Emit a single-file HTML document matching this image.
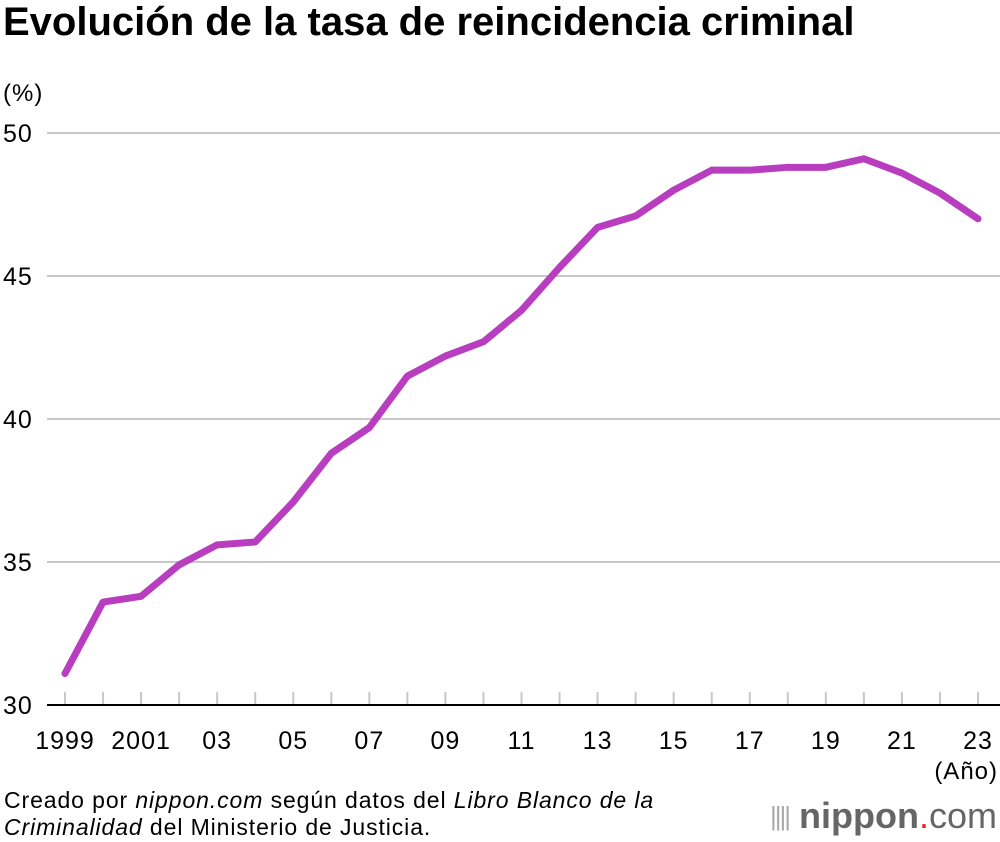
<!DOCTYPE html>
<html><head><meta charset="utf-8"><style>
html,body{margin:0;padding:0;background:#fff;}
body{width:1000px;height:842px;position:relative;overflow:hidden;font-family:"Liberation Sans",Arial,sans-serif;color:#000;}
#title{position:absolute;left:3px;top:0px;font-size:40px;font-weight:bold;letter-spacing:0px;white-space:nowrap;margin:0;}
#src{position:absolute;left:4px;top:787px;font-size:23px;letter-spacing:0.9px;line-height:27px;}
#logo{position:absolute;left:770px;top:795px;font-size:36px;color:#666;white-space:nowrap;}
svg{position:absolute;left:0;top:0;}
svg text{font-family:"Liberation Sans",Arial,sans-serif;letter-spacing:1px;}
</style></head><body>
<h1 id="title">Evolución de la tasa de reincidencia criminal</h1>
<svg id="chart" width="1000" height="842"></svg>
<div id="src">Creado por <i>nippon.com</i> según datos del <i>Libro Blanco de la<br>Criminalidad</i> del Ministerio de Justicia.</div>
<div id="logo"><span style="font-size:26px;letter-spacing:-2px;color:#aaa;vertical-align:3px">||||</span> <b>nippon</b><span style="color:#e22">.</span>com</div>
<script>
const years=[1999,2000,2001,2002,2003,2004,2005,2006,2007,2008,2009,2010,2011,2012,2013,2014,2015,2016,2017,2018,2019,2020,2021,2022,2023];
const rates=[31.1,33.6,33.8,34.9,35.6,35.7,37.1,38.8,39.7,41.5,42.2,42.7,43.8,45.3,46.7,47.1,48.0,48.7,48.7,48.8,48.8,49.1,48.6,47.9,47.0];
const yTicks=[30,35,40,45,50];
const xLabelYears=[1999,2001,2003,2005,2007,2009,2011,2013,2015,2017,2019,2021,2023];
const xLabels=["1999","2001","03","05","07","09","11","13","15","17","19","21","23"];
const NS="http://www.w3.org/2000/svg";
const svg=document.getElementById('chart');
const x=v=>65+(v-1999)*(978-65)/24;
const y=v=>705-(v-30)*(705-133)/20;
function mk(t,a){const e=document.createElementNS(NS,t);for(const k in a)e.setAttribute(k,a[k]);svg.appendChild(e);return e;}
yTicks.forEach(t=>{
  if(t!==30){const g=mk('line',{x1:47,x2:1000,y1:y(t),y2:y(t),stroke:'#c8c8c8','stroke-width':2});
  
  }
  const l=mk('text',{x:3,y:y(t)+9,'font-size':25});l.textContent=t;
  
  
});
const u=mk('text',{x:3,y:101,'font-size':24});u.textContent='(%)';


years.forEach(v=>{const t=mk('line',{x1:x(v),x2:x(v),y1:692,y2:705,stroke:'#c8c8c8','stroke-width':2});
  
  });
const ax=mk('line',{x1:47,x2:1000,y1:705,y2:705,stroke:'#000','stroke-width':2});


xLabelYears.forEach((v,i)=>{const t=mk('text',{x:x(v),y:749,'font-size':25,'text-anchor':'middle'});t.textContent=xLabels[i];
  
  });
const an=mk('text',{x:998,y:779,'font-size':24,'text-anchor':'end'});an.textContent='(Año)';


const p=mk('polyline',{points:years.map((v,i)=>x(v)+','+y(rates[i])).join(' '),fill:'none',stroke:'#b93dbf','stroke-width':7,'stroke-linejoin':'round','stroke-linecap':'round'});


</script>
</body></html>
